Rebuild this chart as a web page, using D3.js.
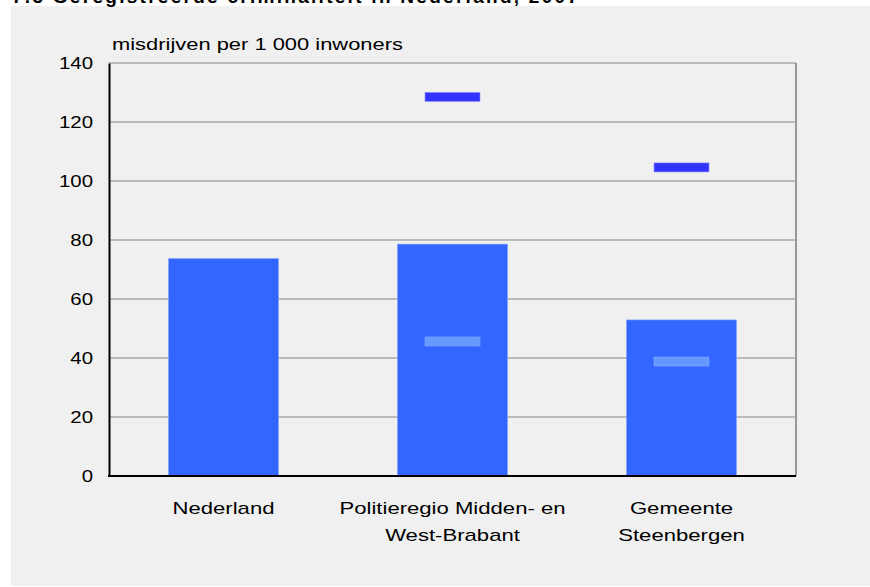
<!DOCTYPE html>
<html>
<head>
<meta charset="utf-8">
<script src="https://cdn.jsdelivr.net/npm/d3@7"></script>
<style>
	body { margin:0; background:#fff; }
	text { font-family: "Liberation Sans", Arial, sans-serif; }
</style>
</head>
<body>
<div id="chart"></div>
<script>
(function(){

	// data
	var categories = [["Nederland"], ["Politieregio Midden- en", "West-Brabant"], ["Gemeente", "Steenbergen"]];
	var barValues = [73.7, 78.6, 52.9];
	var highMarks = [null, 128.5, 104.6];
	var lowMarks = [null, 45.6, 38.8];
	var yTicks = [0, 20, 40, 60, 80, 100, 120, 140];

	var width = 870;
	var height = 587;
	var svg = d3.select("div#chart")
		.append("svg")
		.attr("width", width)
		.attr("height", height)

	// the source font is drawn wider than Liberation Sans
	function stretch(sel, k){
		sel.each(function(){
			var w = this.getComputedTextLength();
			d3.select(this).attr("textLength", w * k).attr("lengthAdjust", "spacingAndGlyphs")
		})
	}

	// grey panel + cropped title
	svg.append("rect").attr("x", 11).attr("y", 6).attr("width", width - 11).attr("height", 580).attr("fill", "#f0f0f0")
	svg.append("text").attr("x", 12).attr("y", 3)
		.attr("font-size", 19).attr("font-weight", "bold").attr("fill", "#000")
		.attr("textLength", 566)
		.text("7.3 Geregistreerde criminaliteit in Nederland, 2007")

	var left = 109, right = 796, top = 63, bottom = 476;

	var x = d3.scaleBand().domain(d3.range(categories.length)).range([left, right]).paddingInner(0.52).paddingOuter(0.26)
	var y = d3.scaleLinear().domain([0, 140]).range([bottom, top])

	var g = svg.append("g")

	// gridlines
	g.selectAll(".grid")
		.data(yTicks.filter(function(d){ return d > 0; }))
		.enter().append("line")
		.attr("x1", left).attr("x2", right)
		.attr("y1", function(d){ return y(d); })
		.attr("y2", function(d){ return y(d); })
		.attr("stroke", "#aaaaaa").attr("stroke-width", 1.5)

	g.append("line").attr("x1", right).attr("x2", right).attr("y1", top).attr("y2", bottom)
		.attr("stroke", "#999").attr("stroke-width", 2)

	// bars
	g.selectAll(".bar")
		.data(barValues)
		.enter().append("rect")
		.attr("x", function(d, i){ return x(i); })
		.attr("width", x.bandwidth())
		.attr("y", function(d){ return y(d); })
		.attr("height", function(d){ return bottom - y(d); })
		.attr("fill", "#3366ff")
		.attr("stroke", "#7f9fff").attr("stroke-width", 0.6)

	var mw = x.bandwidth() * 0.5;
	function marks(data, color, stroke){
		g.selectAll(null)
			.data(data.map(function(v, i){ return {v: v, i: i}; }).filter(function(d){ return d.v != null; }))
			.enter().append("rect")
			.attr("x", function(d){ return x(d.i) + (x.bandwidth() - mw) / 2; })
			.attr("y", function(d){ return y(d.v) - 4.5; })
			.attr("width", mw)
			.attr("height", 9)
			.attr("fill", color)
			.attr("stroke", stroke).attr("stroke-width", 0.6)
	}
	marks(highMarks, "#3333ff", "#8888ff")
	marks(lowMarks, "#6699ff", "#88aaff")

	// axes
	var yAxis = g.append("g").attr("transform", "translate(" + left + ",0)")
		.call(d3.axisLeft(y).tickValues(yTicks).tickSize(0).tickPadding(16))
	yAxis.select(".domain").attr("stroke", "#000").attr("stroke-width", 2)
	yAxis.selectAll("text").attr("font-size", 17).attr("fill", "#000").attr("font-family", "Liberation Sans, Arial, sans-serif")
	stretch(yAxis.selectAll("text"), 1.2)

	g.append("line").attr("x1", left - 1).attr("x2", right).attr("y1", bottom).attr("y2", bottom)
		.attr("stroke", "#000").attr("stroke-width", 2)

	var labels = g.selectAll(".cat")
		.data(categories)
		.enter().append("text")
		.attr("text-anchor", "middle")
		.attr("font-size", 17)
		.attr("fill", "#000")
		.attr("transform", function(d, i){ return "translate(" + (x(i) + x.bandwidth() / 2) + ",514)"; })
	labels.selectAll("tspan")
		.data(function(d){ return d; })
		.enter().append("tspan")
		.attr("x", 0)
		.attr("dy", function(d, i){ return i == 0 ? 0 : 27; })
		.text(function(d){ return d; })
	labels.selectAll("tspan").each(function(){
		var w = this.getComputedTextLength();
		d3.select(this).attr("textLength", w * 1.3).attr("lengthAdjust", "spacingAndGlyphs")
	})

	var unit = svg.append("text").attr("x", 112).attr("y", 50)
		.attr("font-size", 17).attr("fill", "#000")
		.text("misdrijven per 1 000 inwoners")
	unit.attr("textLength", 291).attr("lengthAdjust", "spacingAndGlyphs")

})();
</script>
</body>
</html>
